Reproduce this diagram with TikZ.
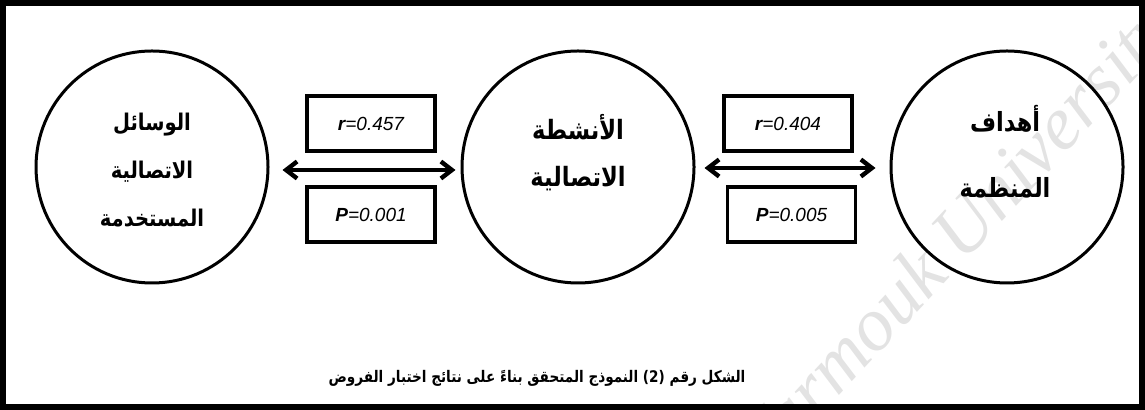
\documentclass[tikz,border=0pt]{standalone}
\usepackage{fontspec}
\setmainfont{Liberation Sans}
\newfontfamily\arabicfont[Script=Arabic,FakeStretch=0.85]{DejaVu Sans}
\newfontfamily\markfont{Liberation Serif}
\TeXXeTstate=1
\usetikzlibrary{arrows.meta}

\tikzset{
  varcirc/.style={circle,draw,line width=1.5pt,minimum size=116pt,inner sep=0pt},
  statbox/.style={draw,line width=1.8pt,minimum width=64pt,minimum height=27.5pt,
    font=\itshape\fontsize{9.5}{11}\selectfont},
  arlabel/.style 2 args={align=center,font=\arabicfont\bfseries\fontsize{#1}{#2}\selectfont},
  linkarrow/.style={line width=2.2pt,{Straight Barb[length=5.5pt,width=8.5pt]}-{Straight Barb[length=5.5pt,width=8.5pt]}}
}
\newcommand{\rl}[1]{\beginR #1\endR}

\begin{document}
\begin{tikzpicture}[x=0.5pt,y=-0.5pt]
\useasboundingbox (0,0) rectangle (1145,410);
% watermark
\begin{scope}
\clip (0,0) rectangle (1145,410);
\node[rotate=47,text=black!11,font=\markfont\itshape\fontsize{38}{42}\selectfont] (mark) at (960,240) {Yarmouk University};
\end{scope}
\draw[line width=3pt] (3,3) rectangle (1142,407);
% variables
\node[varcirc] (lcirc) at (152,167) {};
\node[varcirc] (ccirc) at (578,167) {};
\node[varcirc] (rcirc) at (1007,167) {};
\node[arlabel={11.5}{24}] (ltext) at (152,170) {\rl{الوسائل}\\ \rl{الاتصالية}\\ \rl{المستخدمة}};
\node[arlabel={13.3}{23.5}] (ctext) at (578,153) {\rl{الأنشطة}\\ \rl{الاتصالية}};
\node[arlabel={13.2}{33}] (rtext) at (1005,152) {\rl{أهداف}\\ \rl{المنظمة}};
% statistics
\node[statbox] (lr) at (371,123.5) {\textbf{r}=0.457};
\node[statbox] (lp) at (371,214.5) {\textbf{P}=0.001};
\node[statbox] (rr) at (788,123.5) {\textbf{r}=0.404};
\node[statbox] (rp) at (791.5,214.5) {\textbf{P}=0.005};
% links
\draw[linkarrow,shorten <=6.5pt,shorten >=2.5pt] ([yshift=-1.5pt]lcirc.east) -- ([yshift=-1.5pt]ccirc.west);
\draw[linkarrow,shorten <=4.5pt,shorten >=7pt] ([yshift=-0.5pt]ccirc.east) -- ([yshift=-0.5pt]rcirc.west);
% caption
\node[font=\arabicfont\bfseries\fontsize{8}{10}\selectfont] (caption) at (537,378)
  {\rl{الشكل رقم \beginL(2)\endL{} النموذج المتحقق بناءً على نتائج اختبار الفروض}};
\end{tikzpicture}
\end{document}
